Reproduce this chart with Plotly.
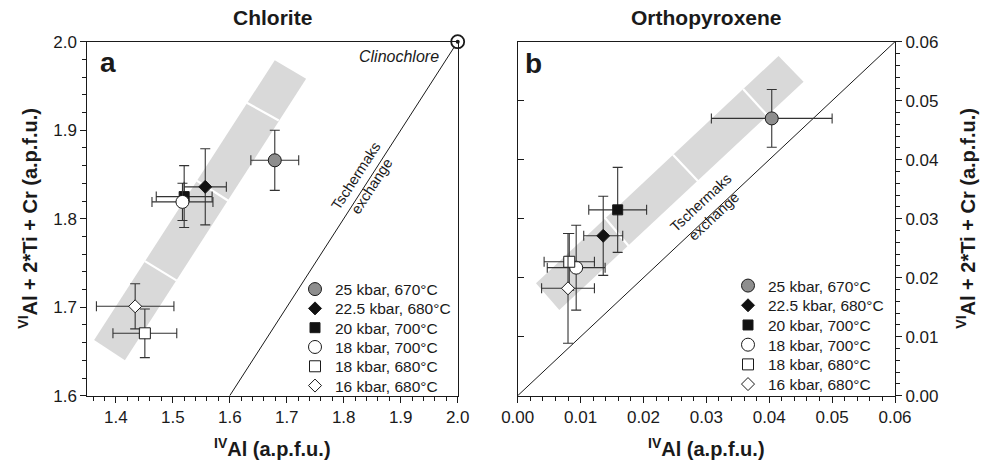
import plotly.graph_objects as go

# ---------------- data ----------------
labels = ["25 kbar, 670°C", "22.5 kbar, 680°C", "20 kbar, 700°C",
          "18 kbar, 700°C", "18 kbar, 680°C", "16 kbar, 680°C"]

# Chlorite (panel a)
chl_x = [1.679, 1.557, 1.520, 1.517, 1.451, 1.434]
chl_y = [1.866, 1.836, 1.825, 1.819, 1.6705, 1.701]
chl_xerr = [0.042, 0.037, 0.049, 0.0535, 0.056, 0.068]
chl_yerr = [0.034, 0.043, 0.035, 0.021, 0.0275, 0.0255]

# Orthopyroxene (panel b)
opx_x = [0.0404, 0.0136, 0.0159, 0.0093, 0.0082, 0.0080]
opx_y = [0.0470, 0.0271, 0.0315, 0.0217, 0.0227, 0.0182]
opx_xerr = [0.0096, 0.0031, 0.0046, 0.0046, 0.0040, 0.0042]
opx_yerr = [0.0049, 0.0067, 0.0072, 0.0072, 0.0048, 0.0093]

# grey trend bands (data space) and their white separators
chl_band_x = [1.362, 1.416, 1.734, 1.679, 1.362]
chl_band_y = [1.663, 1.640, 1.958, 1.979, 1.663]
chl_sep_x = [[1.451, 1.507], [1.542, 1.598], [1.630, 1.686]]
chl_sep_y = [[1.752, 1.730], [1.843, 1.820], [1.931, 1.911]]

opx_band_x = [0.00291, 0.00662, 0.04546, 0.04148, 0.00291]
opx_band_y = [0.01905, 0.01453, 0.05322, 0.05758, 0.01905]
opx_sep_x = [[0.0139, 0.0177], [0.02470, 0.02880], [0.03585, 0.03968]]
opx_sep_y = [[0.03012, 0.02530], [0.04086, 0.03620], [0.05198, 0.04752]]

# Tschermaks exchange lines
chl_ts_x = [1.6, 2.0]
chl_ts_y = [1.6, 2.0]
opx_ts_x = [0.0, 0.06]
opx_ts_y = [0.0, 0.06]

clino_x = [2.0]
clino_y = [2.0]

chl_xticks = [1.4, 1.5, 1.6, 1.7, 1.8, 1.9, 2.0]
chl_yticks = [1.6, 1.7, 1.8, 1.9, 2.0]
opx_ticks = [0.00, 0.01, 0.02, 0.03, 0.04, 0.05, 0.06]

# ---------------- styles ----------------
symbols = ["circle", "diamond", "square", "circle", "square", "diamond"]
fills = ["#8e8e8e", "#111111", "#111111", "#ffffff", "#ffffff", "#ffffff"]
sizes = [13, 10, 10, 13, 11, 10]
FONT = "Liberation Sans, Arial, sans-serif"
INK = "#1a1a1a"
ERR = "#333333"
BAND = "#d9d9d9"

W, H = 982, 461
def fx(p): return p / W
def fy(p): return 1 - p / H

XL = (87.3, 457.7)
XR = (517.7, 895.0)
YT, YB = 41.7, 395.7

# legend rows (pixel placement of each key entry)
LEG_L_X, LEG_R_X = 295, 728
LEG_L_Y0, LEG_R_Y0, LEG_DY_L, LEG_DY_R = 286.5, 283.0, 19.3, 19.7

fig = go.Figure()
legend_layout = {}

def add_panel(xa, ya, bx, by, sx, sy, tx, ty, px, py, pxe, pye, leg_offset, lx, ly0, ldy):
    fig.add_trace(go.Scatter(x=bx, y=by, mode="lines", fill="toself",
                             fillcolor=BAND, line=dict(width=0), showlegend=False,
                             hoverinfo="skip", xaxis=xa, yaxis=ya))
    for xs, ys in zip(sx, sy):
        fig.add_trace(go.Scatter(x=xs, y=ys, mode="lines",
                                 line=dict(color="white", width=2.2),
                                 showlegend=False, hoverinfo="skip",
                                 xaxis=xa, yaxis=ya))
    fig.add_trace(go.Scatter(x=tx, y=ty, mode="lines",
                             line=dict(color=INK, width=1),
                             showlegend=False, hoverinfo="skip",
                             xaxis=xa, yaxis=ya))
    for i, lab in enumerate(labels):
        n = leg_offset + i
        lid = "legend" if n == 1 else f"legend{n}"
        fig.add_trace(go.Scatter(
            x=[px[i]], y=[py[i]], mode="markers", name=lab,
            marker=dict(symbol=symbols[i], size=sizes[i], color=fills[i],
                        line=dict(color=INK, width=1)),
            error_x=dict(type="data", array=[pxe[i]], color=ERR, thickness=1.1, width=5),
            error_y=dict(type="data", array=[pye[i]], color=ERR, thickness=1.1, width=5),
            xaxis=xa, yaxis=ya, legend=lid))
        legend_layout[lid] = dict(
            x=fx(lx), y=fy(ly0 + i * ldy - 14), xanchor="left", yanchor="top",
            font=dict(family=FONT, size=15.5, color=INK), bgcolor="rgba(0,0,0,0)",
            borderwidth=0, itemclick=False, itemdoubleclick=False)

add_panel("x", "y", chl_band_x, chl_band_y, chl_sep_x, chl_sep_y,
          chl_ts_x, chl_ts_y, chl_x, chl_y, chl_xerr, chl_yerr, 1,
          LEG_L_X, LEG_L_Y0, LEG_DY_L)
add_panel("x2", "y2", opx_band_x, opx_band_y, opx_sep_x, opx_sep_y,
          opx_ts_x, opx_ts_y, opx_x, opx_y, opx_xerr, opx_yerr, 7,
          LEG_R_X, LEG_R_Y0, LEG_DY_R)

# Clinochlore end-member marker
fig.add_trace(go.Scatter(x=clino_x, y=clino_y, mode="markers",
                         marker=dict(symbol="circle", size=13, color="white",
                                     line=dict(color=INK, width=1.8)),
                         cliponaxis=False, showlegend=False, hoverinfo="skip",
                         xaxis="x", yaxis="y"))
fig.add_trace(go.Scatter(x=clino_x, y=clino_y, mode="markers",
                         marker=dict(symbol="circle", size=4, color=INK),
                         cliponaxis=False, showlegend=False, hoverinfo="skip",
                         xaxis="x", yaxis="y"))
# dummy trace for the inner-tick overlay axis
fig.add_trace(go.Scatter(x=[None], y=[None], xaxis="x2", yaxis="y3",
                         showlegend=False, hoverinfo="skip"))

tickfont = dict(family=FONT, size=17, color=INK)
common = dict(showgrid=False, zeroline=False, showline=True, linecolor=INK,
              linewidth=1, mirror=True, ticks="outside", ticklen=6, tickwidth=1,
              tickcolor=INK, tickfont=tickfont)

fig.update_layout(
    width=W, height=H, margin=dict(l=0, r=0, t=0, b=0, autoexpand=False),
    paper_bgcolor="white", plot_bgcolor="white", showlegend=True,
    xaxis=dict(domain=[fx(XL[0]), fx(XL[1])], range=[1.35, 2.0], anchor="y",
               tickvals=chl_xticks, ticktext=[f"{v:.1f}" for v in chl_xticks],
               minor=dict(dtick=0.02, tick0=1.36, ticks="outside", ticklen=4,
                          tickcolor=INK, showgrid=False), **common),
    yaxis=dict(domain=[fy(YB), fy(YT)], range=[1.6, 2.0], anchor="x",
               tickvals=chl_yticks, ticktext=[f"{v:.1f}" for v in chl_yticks],
               minor=dict(dtick=0.02, tick0=1.6, ticks="outside", ticklen=4,
                          tickcolor=INK, showgrid=False), **common),
    xaxis2=dict(domain=[fx(XR[0]), fx(XR[1])], range=[0, 0.06], anchor="y2",
                tickvals=opx_ticks, ticktext=[f"{v:.2f}" for v in opx_ticks],
                minor=dict(dtick=0.002, tick0=0, ticks="outside", ticklen=4,
                           tickcolor=INK, showgrid=False), **common),
    yaxis2=dict(domain=[fy(YB), fy(YT)], range=[0, 0.06], anchor="x2", side="right",
                tickvals=opx_ticks, ticktext=[f"{v:.2f}" for v in opx_ticks],
                minor=dict(dtick=0.002, tick0=0, ticks="outside", ticklen=4,
                           tickcolor=INK, showgrid=False), **common),
    yaxis3=dict(overlaying="y2", anchor="x2", side="left", range=[0, 0.06],
                tickvals=opx_ticks, ticks="inside", ticklen=6, tickcolor=INK,
                showticklabels=False, showgrid=False, zeroline=False, showline=False),
    **legend_layout,
)

ann = []
def A(**kw):
    ann.append(kw)

titlefont = dict(family=FONT, size=21, color=INK)
axfont = dict(family=FONT, size=20, color=INK)
A(text="<b>Chlorite</b>", x=fx((XL[0] + XL[1]) / 2), y=fy(18), xref="paper", yref="paper",
  showarrow=False, font=titlefont, xanchor="center", yanchor="middle")
A(text="<b>Orthopyroxene</b>", x=fx((XR[0] + XR[1]) / 2), y=fy(18), xref="paper", yref="paper",
  showarrow=False, font=titlefont, xanchor="center", yanchor="middle")
A(text="<b><sup>IV</sup>Al (a.p.f.u.)</b>", x=fx((XL[0] + XL[1]) / 2), y=fy(447),
  xref="paper", yref="paper", showarrow=False, font=axfont, xanchor="center", yanchor="middle")
A(text="<b><sup>IV</sup>Al (a.p.f.u.)</b>", x=fx((XR[0] + XR[1]) / 2), y=fy(447),
  xref="paper", yref="paper", showarrow=False, font=axfont, xanchor="center", yanchor="middle")
A(text="<b><sup>VI</sup>Al + 2*Ti + Cr (a.p.f.u.)</b>", x=fx(28), y=fy((YT + YB) / 2),
  xref="paper", yref="paper", showarrow=False, font=axfont, textangle=-90,
  xanchor="center", yanchor="middle")
A(text="<b><sup>VI</sup>Al + 2*Ti + Cr (a.p.f.u.)</b>", x=fx(966), y=fy((YT + YB) / 2),
  xref="paper", yref="paper", showarrow=False, font=axfont, textangle=-90,
  xanchor="center", yanchor="middle")
A(text="<b>a</b>", x=fx(108), y=fy(62), xref="paper", yref="paper", showarrow=False,
  font=dict(family=FONT, size=28, color=INK), xanchor="center", yanchor="middle")
A(text="<b>b</b>", x=fx(533), y=fy(63), xref="paper", yref="paper", showarrow=False,
  font=dict(family=FONT, size=28, color=INK), xanchor="center", yanchor="middle")
A(text="<i>Clinochlore</i>", x=1.971, y=1.983, xref="x", yref="y", showarrow=False,
  font=dict(family=FONT, size=16, color=INK), xanchor="right", yanchor="middle")
A(text="Tschermaks<br>exchange", x=1.8344, y=1.8426, xref="x", yref="y", showarrow=False,
  font=dict(family=FONT, size=14.5, color=INK), textangle=-57,
  xanchor="center", yanchor="middle")
A(text="Tschermaks<br>exchange", x=0.0302, y=0.0315, xref="x2", yref="y2", showarrow=False,
  font=dict(family=FONT, size=14.5, color=INK), textangle=-43,
  xanchor="center", yanchor="middle")

fig.update_layout(annotations=ann)
fig.write_html("out.html")
